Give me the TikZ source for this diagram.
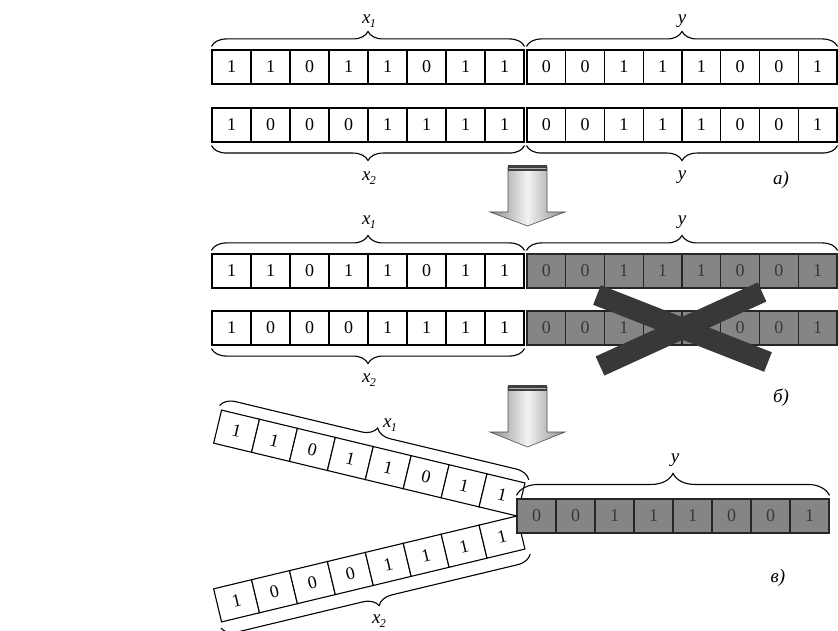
\documentclass[tikz,border=0pt]{standalone}
\usepackage{fontspec}
\setmainfont{Liberation Serif}
\usetikzlibrary{decorations.pathreplacing}
\newcommand\xsub[1]{\textit{x}\kern-0.5pt\raisebox{-0.45ex}{\fontsize{12}{12}\selectfont #1}}
\newcommand\cellrow[6]{%
  \foreach \d [count=\i] in {#6}{%
    \node[#5, minimum width=#4pt] (#1\i) at ({#2+(\i-0.5)*#4},#3) {\d};
  }%
}
\begin{document}
\begin{tikzpicture}[x=1pt,y=-1pt,
  wcell/.style={draw=black, line width=1.1pt, fill=white, minimum height=34pt, inner sep=0pt, font=\fontsize{18}{18}\selectfont},
  gcell/.style={draw=black!85, line width=1.1pt, fill=black!48, text=black!78, minimum height=34pt, inner sep=0pt, font=\fontsize{18}{18}\selectfont},
  brc/.style={decorate, decoration={brace, amplitude=15pt}, line width=1.1pt},
  bigbrc/.style={decorate, decoration={brace, amplitude=22pt}, line width=1.1pt},
  rbrc/.style={decorate, decoration={brace, amplitude=15pt}, line width=1.1pt},
  lbl/.style={font=\fontsize{19}{19}\selectfont\itshape, inner sep=0pt},
  arr/.style={draw=black!70, line width=0.6pt, left color=gray!90, right color=gray!90, middle color=gray!10},
  arrcap/.style={fill=black!75},
  cross/.style={line width=21pt, draw=black!78},
]
\useasboundingbox (0,0) rectangle (838,631);
\fill[white] (0,0) rectangle (838,631);

% ---------- a) ----------
\cellrow{ra}{212}{67}{39}{wcell}{1,1,0,1,1,0,1,1}
\cellrow{rb}{527}{67}{38.75}{wcell}{0,0,1,1,1,0,0,1}
\cellrow{rc}{212}{125}{39}{wcell}{1,0,0,0,1,1,1,1}
\cellrow{rd}{527}{125}{38.75}{wcell}{0,0,1,1,1,0,0,1}
\draw[brc] ([yshift=3pt]ra1.north west) -- ([yshift=3pt]ra8.north east);
\draw[brc] ([yshift=3pt]rb1.north west) -- ([yshift=3pt]rb8.north east);
\draw[brc] ([yshift=-3pt]rc8.south east) -- ([yshift=-3pt]rc1.south west);
\draw[brc] ([yshift=-3pt]rd8.south east) -- ([yshift=-3pt]rd1.south west);
\node[lbl] (la1) at (369,21) {\xsub{1}};
\node[lbl] (la2) at (682,21) {y};
\node[lbl] (la3) at (369,178) {\xsub{2}};
\node[lbl] (la4) at (682,177) {y};
\node[lbl] (tagA) at (781,180) {а)};

% arrow 1
\shadedraw[arr] (508,167) -- (547,167) -- (547,212) -- (565,212) -- (527.5,226) -- (490,212) -- (508,212) -- cycle;
\fill[arrcap] (508,165) rectangle (547,171);
\draw[gray!60, line width=0.6pt] (509,168) -- (546,168);

% ---------- b) ----------
\cellrow{sa}{212}{271}{39}{wcell}{1,1,0,1,1,0,1,1}
\cellrow{sb}{527}{271}{38.75}{gcell}{0,0,1,1,1,0,0,1}
\cellrow{sc}{212}{328}{39}{wcell}{1,0,0,0,1,1,1,1}
\cellrow{sd}{527}{328}{38.75}{gcell}{0,0,1,1,1,0,0,1}
\draw[brc] ([yshift=3pt]sa1.north west) -- ([yshift=3pt]sa8.north east);
\draw[brc] ([yshift=3pt]sb1.north west) -- ([yshift=3pt]sb8.north east);
\draw[brc] ([yshift=-3pt]sc8.south east) -- ([yshift=-3pt]sc1.south west);
\node[lbl] (lb1) at (369,222) {\xsub{1}};
\node[lbl] (lb2) at (682,222) {y};
\node[lbl] (lb3) at (369,380) {\xsub{2}};
\node[lbl] (tagB) at (781,398) {б)};
\draw[cross] (597,295) -- (768,362);
\draw[cross] (762,292) -- (600,366);

% arrow 2
\shadedraw[arr] (508,387) -- (547,387) -- (547,432) -- (565,432) -- (527.5,447) -- (490,432) -- (508,432) -- cycle;
\fill[arrcap] (508,385) rectangle (547,391);
\draw[gray!60, line width=0.6pt] (509,388) -- (546,388);

% ---------- c) ----------
\begin{scope}[shift={(517,516)}, rotate=-13.5, transform shape]
  \cellrow{ta}{-312}{-17}{39}{wcell}{1,1,0,1,1,0,1,1}
  \draw[rbrc] (-315,-38) -- (3,-38);
\end{scope}
\begin{scope}[shift={(517,516)}, rotate=13.5, transform shape]
  \cellrow{tb}{-312}{17}{39}{wcell}{1,0,0,0,1,1,1,1}
  \draw[rbrc] (4,40) -- (-314,40);
\end{scope}
\cellrow{tc}{517}{516}{39}{gcell}{0,0,1,1,1,0,0,1}
\draw[bigbrc] ([yshift=3pt]tc1.north west) -- ([yshift=3pt]tc8.north east);
\node[lbl] (lc1) at (390,425) {\xsub{1}};
\node[lbl] (lc2) at (675,460) {y};
\node[lbl] (lc3) at (379,621) {\xsub{2}};
\node[lbl] (tagC) at (778,578) {в)};
\end{tikzpicture}
\end{document}
